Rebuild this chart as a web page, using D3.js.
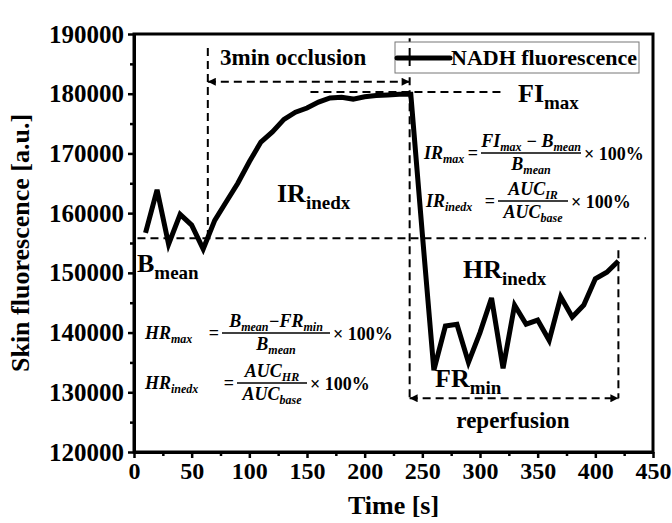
<!DOCTYPE html>
<html>
<head>
<meta charset="utf-8">
<script src="https://cdn.jsdelivr.net/npm/d3@7"></script>
<style>
  body { margin: 0; background: #fff; }
  svg text { font-family: "Liberation Serif", "Times New Roman", serif; font-weight: bold; fill: #000; }
</style>
</head>
<body>
<div id="chart"></div>
<script>
// 数据
const times = [10, 20, 30, 40, 50, 60, 70, 80, 90, 100, 110, 120, 130, 140, 150, 160, 170, 180, 190, 200,
               210, 220, 230, 240, 250, 260, 270, 280, 290, 300, 310, 320, 330, 340, 350, 360, 370, 380,
               390, 400, 410, 420];
const nadh = [156700, 163900, 154800, 159800, 158000, 154000, 158800, 161900, 165000, 168600, 171900, 173600,
              175700, 176900, 177600, 178600, 179300, 179400, 179100, 179500, 179700, 179800, 179900, 179900,
              156500, 133700, 141100, 141400, 135000, 140000, 145800, 134000, 144600, 141400, 142100, 138700,
              146000, 142600, 144600, 149000, 150100, 152000];
const xTicks = [0, 50, 100, 150, 200, 250, 300, 350, 400, 450];
const yTicks = [120000, 130000, 140000, 150000, 160000, 170000, 180000, 190000];

// 注释位置（数据单位）
const occStart = 64, occEnd = 239, repEnd = 420;
const bMean = 155800, fiMax = 180300, occArrowY = 182000, repArrowY = 129000;

const W = 672, H = 523;
const margin = {top: 34, right: 19, bottom: 71, left: 134};

const svg = d3.select("#chart").append("svg")
    .attr("width", W).attr("height", H);

const x = d3.scaleLinear().domain([0, 450]).range([margin.left, W - margin.right]);
const y = d3.scaleLinear().domain([120000, 190000]).range([H - margin.bottom, margin.top]);

// 箭头
const defs = svg.append("defs");
defs.append("marker").attr("id", "arrow")
    .attr("viewBox", "0 0 10 10").attr("refX", 10).attr("refY", 5)
    .attr("markerWidth", 14).attr("markerHeight", 8).attr("markerUnits", "userSpaceOnUse")
    .attr("orient", "auto-start-reverse")
    .append("path").attr("d", "M0,0L10,5L0,10Z").attr("fill", "#000");

// 虚线注释
const dash = "8,5";
function dline(x1, y1, x2, y2, arrows) {
    const l = svg.append("line")
        .attr("x1", x(x1)).attr("y1", y(y1)).attr("x2", x(x2)).attr("y2", y(y2))
        .attr("stroke", "#000").attr("stroke-width", 2).attr("stroke-dasharray", dash);
    if (arrows) l.attr("marker-start", "url(#arrow)").attr("marker-end", "url(#arrow)");
}
dline(3, bMean, 444, bMean);
dline(occStart, 187650, occStart, bMean);
dline(occEnd, 189300, occEnd, repArrowY);
dline(repEnd, 153800, repEnd, repArrowY);
dline(153, fiMax, 318, fiMax);
dline(occStart, occArrowY, occEnd, occArrowY, true);
dline(occEnd, repArrowY, repEnd, repArrowY, true);

// 图例
const lg = svg.append("g");
lg.append("rect").attr("x", 395).attr("y", 42).attr("width", 244).attr("height", 31)
    .attr("fill", "#fff").attr("stroke", "#777").attr("stroke-width", 1);
lg.append("line").attr("x1", 397).attr("x2", 450).attr("y1", 58).attr("y2", 58)
    .attr("stroke", "#000").attr("stroke-width", 5).attr("stroke-linecap", "round");
lg.append("line").attr("x1", x(occEnd)).attr("x2", x(occEnd)).attr("y1", 48).attr("y2", 66)
    .attr("stroke", "#000").attr("stroke-width", 2);
lg.append("text").attr("x", 451).attr("y", 65).attr("font-size", 22).text("NADH fluorescence");

// 折线
const line = d3.line().x((d, i) => x(times[i])).y(d => y(d));
svg.append("path").datum(nadh)
    .attr("fill", "none").attr("stroke", "#000").attr("stroke-width", 5)
    .attr("stroke-linejoin", "miter").attr("d", line);

// 坐标轴
const xAxis = svg.append("g").attr("transform", `translate(0,${y(120000)})`)
    .call(d3.axisBottom(x).tickValues(xTicks).tickSize(6).tickSizeOuter(0).tickPadding(4));
svg.append("g").attr("transform", `translate(0,${y(120000)})`)
    .call(d3.axisBottom(x).tickValues(d3.range(25, 450, 50)).tickSize(4).tickSizeOuter(0).tickFormat(""))
    .call(g => g.select(".domain").remove());
const yAxis = svg.append("g").attr("transform", `translate(${x(0)},0)`)
    .call(d3.axisLeft(y).tickValues(yTicks).tickFormat(d3.format("d")).tickSize(6).tickSizeOuter(0).tickPadding(4));
svg.append("g").attr("transform", `translate(${x(0)},0)`)
    .call(d3.axisLeft(y).tickValues(d3.range(125000, 190000, 10000)).tickSize(4).tickSizeOuter(0).tickFormat(""))
    .call(g => g.select(".domain").remove());
svg.selectAll(".tick line").attr("stroke", "#000").attr("stroke-width", 2.5);
xAxis.selectAll("text").attr("font-size", 24);
yAxis.selectAll("text").attr("font-size", 25);

// 边框
svg.append("rect").attr("x", x(0)).attr("y", y(190000))
    .attr("width", x(450) - x(0)).attr("height", y(120000) - y(190000))
    .attr("fill", "none").attr("stroke", "#000").attr("stroke-width", 3);
svg.selectAll(".domain").attr("stroke-width", 3);

// 轴标题
svg.append("text").attr("x", (x(0) + x(450)) / 2).attr("y", 514)
    .attr("text-anchor", "middle").attr("font-size", 26).text("Time [s]");
svg.append("text").attr("transform", `translate(29,${(y(120000) + y(190000)) / 2}) rotate(-90)`)
    .attr("text-anchor", "middle").attr("font-size", 26).text("Skin fluorescence [a.u.]");

// 带下标的文字
function subText(px, py, main, sub, size, subSize) {
    const t = svg.append("text").attr("x", px).attr("y", py).attr("font-size", size);
    t.append("tspan").text(main);
    t.append("tspan").attr("dy", size * 0.28).attr("font-size", subSize).text(sub);
    return t;
}
svg.append("text").attr("x", 220).attr("y", 65).attr("font-size", 23).text("3min occlusion");
subText(277, 202, "IR", "inedx", 26, 19);
subText(137, 272, "B", "mean", 26, 19);
subText(518, 102, "FI", "max", 26, 19);
subText(463, 278, "HR", "inedx", 26, 19);
subText(435, 387, "FR", "min", 26, 19);
svg.append("text").attr("x", 513).attr("y", 428).attr("text-anchor", "middle").attr("font-size", 23).text("reperfusion");

// 公式
const fSize = 18, fSub = 12;
function rich(px, py, parts, anchor) {
    const t = svg.append("text").attr("x", px).attr("y", py).attr("font-size", fSize)
        .attr("font-style", "italic").attr("text-anchor", anchor || "start");
    let down = false;
    parts.forEach(p => {
        const s = t.append("tspan").text(p[0]);
        if (p[1] && !down) { s.attr("dy", 4).attr("font-size", fSub); down = true; }
        else if (p[1]) { s.attr("font-size", fSub); }
        else if (!p[1] && down) { s.attr("dy", -4); down = false; }
    });
    return t;
}
function formula(lx, by, lhs, num, den, cx, barHalf) {
    rich(lx, by + 6, lhs);
    svg.append("text").attr("x", cx - barHalf - 3).attr("y", by + 6).attr("font-size", fSize)
        .attr("text-anchor", "end").text("=");
    rich(cx, by - 6, num, "middle");
    svg.append("line").attr("x1", cx - barHalf).attr("x2", cx + barHalf).attr("y1", by).attr("y2", by)
        .attr("stroke", "#000").attr("stroke-width", 1.3);
    rich(cx, by + 17, den, "middle");
    svg.append("text").attr("x", cx + barHalf + 3).attr("y", by + 7).attr("font-size", fSize)
        .text("× 100%");
}
formula(424, 153, [["IR", false], ["max", true]],
    [["FI", false], ["max", true], [" − B", false], ["mean", true]],
    [["B", false], ["mean", true]], 531, 50);
formula(426, 201, [["IR", false], ["inedx", true]],
    [["AUC", false], ["IR", true]],
    [["AUC", false], ["base", true]], 533, 35);
formula(145, 333, [["HR", false], ["max", true]],
    [["B", false], ["mean", true], ["−FR", false], ["min", true]],
    [["B", false], ["mean", true]], 276, 54);
formula(145, 383, [["HR", false], ["inedx", true]],
    [["AUC", false], ["HR", true]],
    [["AUC", false], ["base", true]], 272, 35);
</script>
</body>
</html>
